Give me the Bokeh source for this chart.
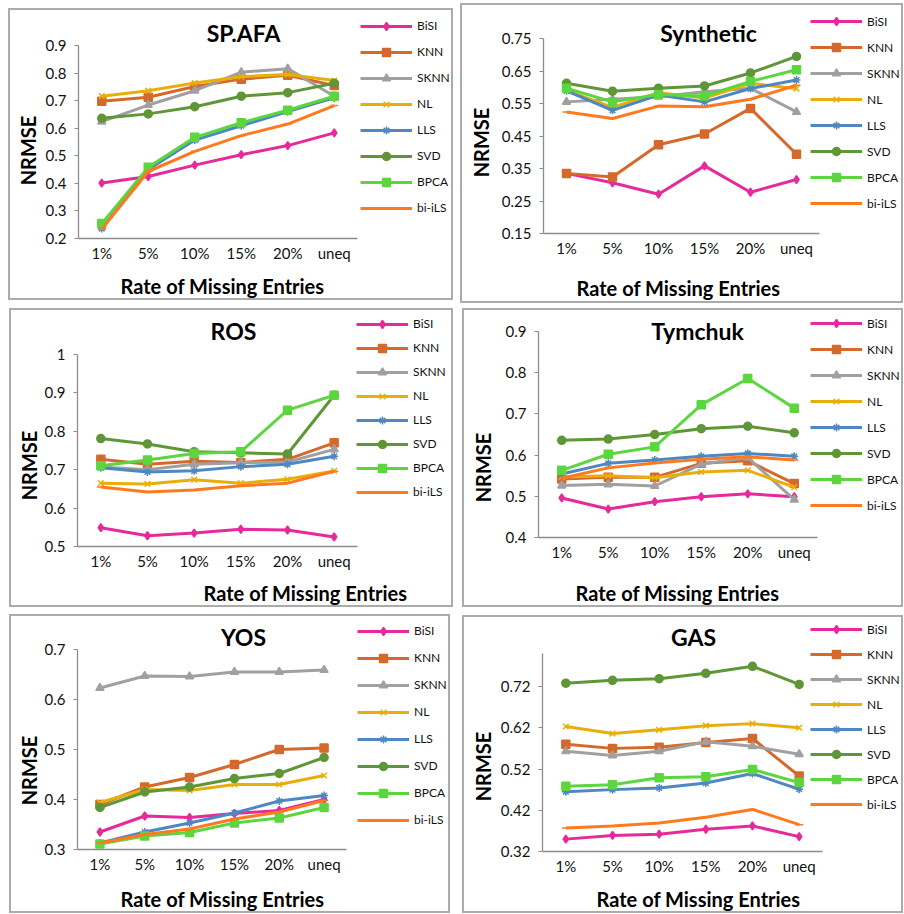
import math

from bokeh.embed import file_html
from bokeh.layouts import column, row
from bokeh.models import (CustomJSTickFormatter, FactorRange, FixedTicker, Label,
                          Legend, LegendItem, Range1d)
from bokeh.plotting import figure
from bokeh.resources import INLINE

# ---------------------------------------------------------------- data
RATES = ["1%", "5%", "10%", "15%", "20%", "uneq"]
METHODS = ["BiSI", "KNN", "SKNN", "NL", "LLS", "SVD", "BPCA", "bi-iLS"]

SPAFA = {
    "BiSI":   [0.401, 0.425, 0.466, 0.504, 0.537, 0.583],
    "KNN":    [0.698, 0.712, 0.751, 0.778, 0.792, 0.755],
    "SKNN":   [0.624, 0.684, 0.736, 0.803, 0.816, 0.716],
    "NL":     [0.716, 0.736, 0.764, 0.787, 0.795, 0.773],
    "LLS":    [0.236, 0.450, 0.557, 0.609, 0.660, 0.710],
    "SVD":    [0.636, 0.652, 0.678, 0.716, 0.729, 0.763],
    "BPCA":   [0.254, 0.458, 0.567, 0.620, 0.665, 0.716],
    "bi-iLS": [0.234, 0.443, 0.516, 0.573, 0.615, 0.682],
}
SYNTHETIC = {
    "BiSI":   [0.335, 0.306, 0.271, 0.358, 0.277, 0.316],
    "KNN":    [0.335, 0.324, 0.423, 0.456, 0.535, 0.394],
    "SKNN":   [0.555, 0.563, 0.571, 0.586, 0.597, 0.524],
    "NL":     [0.590, 0.538, 0.583, 0.567, 0.612, 0.596],
    "LLS":    [0.589, 0.529, 0.576, 0.555, 0.596, 0.622],
    "SVD":    [0.612, 0.588, 0.597, 0.604, 0.644, 0.695],
    "BPCA":   [0.597, 0.555, 0.578, 0.573, 0.618, 0.654],
    "bi-iLS": [0.524, 0.504, 0.542, 0.540, 0.563, 0.606],
}
ROS = {
    "BiSI":   [0.549, 0.528, 0.535, 0.545, 0.543, 0.525],
    "KNN":    [0.727, 0.714, 0.722, 0.719, 0.727, 0.770],
    "SKNN":   [0.707, 0.700, 0.714, 0.718, 0.720, 0.753],
    "NL":     [0.665, 0.663, 0.674, 0.665, 0.675, 0.697],
    "LLS":    [0.705, 0.694, 0.697, 0.708, 0.714, 0.735],
    "SVD":    [0.781, 0.767, 0.747, 0.744, 0.741, 0.894],
    "BPCA":   [0.710, 0.725, 0.742, 0.747, 0.855, 0.894],
    "bi-iLS": [0.655, 0.642, 0.647, 0.658, 0.665, 0.696],
}
TYMCHUK = {
    "BiSI":   [0.496, 0.469, 0.487, 0.499, 0.506, 0.499],
    "KNN":    [0.542, 0.546, 0.546, 0.580, 0.586, 0.531],
    "SKNN":   [0.526, 0.529, 0.525, 0.578, 0.594, 0.492],
    "NL":     [0.547, 0.550, 0.545, 0.559, 0.563, 0.522],
    "LLS":    [0.554, 0.580, 0.588, 0.597, 0.604, 0.597],
    "SVD":    [0.636, 0.639, 0.650, 0.664, 0.670, 0.654],
    "BPCA":   [0.563, 0.602, 0.620, 0.722, 0.786, 0.714],
    "bi-iLS": [0.544, 0.569, 0.581, 0.590, 0.596, 0.588],
}
YOS = {
    "BiSI":   [0.335, 0.367, 0.364, 0.372, 0.378, 0.400],
    "KNN":    [0.390, 0.425, 0.444, 0.470, 0.500, 0.503],
    "SKNN":   [0.623, 0.647, 0.646, 0.655, 0.655, 0.659],
    "NL":     [0.394, 0.420, 0.418, 0.430, 0.430, 0.448],
    "LLS":    [0.313, 0.335, 0.353, 0.373, 0.397, 0.408],
    "SVD":    [0.384, 0.415, 0.425, 0.442, 0.452, 0.484],
    "BPCA":   [0.311, 0.327, 0.334, 0.353, 0.363, 0.384],
    "bi-iLS": [0.313, 0.330, 0.341, 0.361, 0.375, 0.398],
}
GAS = {
    "BiSI":   [0.350, 0.359, 0.362, 0.374, 0.382, 0.356],
    "KNN":    [0.580, 0.570, 0.573, 0.584, 0.594, 0.503],
    "SKNN":   [0.563, 0.553, 0.563, 0.586, 0.575, 0.556],
    "NL":     [0.623, 0.606, 0.615, 0.625, 0.630, 0.620],
    "LLS":    [0.465, 0.470, 0.474, 0.486, 0.509, 0.471],
    "SVD":    [0.728, 0.735, 0.739, 0.752, 0.769, 0.725],
    "BPCA":   [0.478, 0.482, 0.499, 0.501, 0.519, 0.487],
    "bi-iLS": [0.377, 0.382, 0.389, 0.403, 0.422, 0.385],
}

SPAFA_TICKS = [0.2, 0.3, 0.4, 0.5, 0.6, 0.7, 0.8, 0.9]
SYNTHETIC_TICKS = [0.15, 0.25, 0.35, 0.45, 0.55, 0.65, 0.75]
ROS_TICKS = [0.5, 0.6, 0.7, 0.8, 0.9, 1.0]
TYMCHUK_TICKS = [0.4, 0.5, 0.6, 0.7, 0.8, 0.9]
YOS_TICKS = [0.3, 0.4, 0.5, 0.6, 0.7]
GAS_TICKS = [0.32, 0.42, 0.52, 0.62, 0.72]
GAS_TOP = 0.80

X_LABEL = "Rate of Missing Entries"
Y_LABEL = "NRMSE"

# ---------------------------------------------------------------- style
FONT = "Lato"
COLORS = {
    "BiSI": "#E6299B", "KNN": "#D5692C", "SKNN": "#A0A0A0", "NL": "#E8AE0B",
    "LLS": "#4E87C2", "SVD": "#5F9637", "BPCA": "#5CD63F", "bi-iLS": "#FF7A1E",
}
MARKERS = {
    "BiSI": ("diamond", 8), "KNN": ("square", 8), "SKNN": ("triangle", 8),
    "NL": ("x", 8), "LLS": ("asterisk", 8), "SVD": ("circle", 8),
    "BPCA": ("square", 8), "bi-iLS": ("dash", 8),
}
BORDER = 2

# page geometry of each panel (pixels): outer box, plot frame, centres of
# title / x label / y label, and legend (line start x, first row y, row step)
PANELS = [
    dict(title="SP.AFA", data=SPAFA, ticks=SPAFA_TICKS, top=0.9,
         box=(8, 8, 453, 300), frame=(78, 45, 357, 238),
         tpos=(243, 32), xpos=(222, 285), ypos=(27, 150),
         leg=(360, 23, 26.4)),
    dict(title="Synthetic", data=SYNTHETIC, ticks=SYNTHETIC_TICKS, top=0.75,
         box=(460, 3, 903, 303), frame=(543, 38, 819, 233),
         tpos=(708, 32), xpos=(678, 287), ypos=(480, 142),
         leg=(810, 20, 26.2)),
    dict(title="ROS", data=ROS, ticks=ROS_TICKS, top=1.0,
         box=(9, 308, 453, 607), frame=(77, 354, 357, 546),
         tpos=(233, 330), xpos=(305, 592), ypos=(28, 465),
         leg=(356, 323, 24.1)),
    dict(title="Tymchuk", data=TYMCHUK, ticks=TYMCHUK_TICKS, top=0.9,
         box=(462, 308, 903, 607), frame=(538, 331, 817, 537),
         tpos=(697, 330), xpos=(677, 592), ypos=(482, 467),
         leg=(810, 322, 26.2)),
    dict(title="YOS", data=YOS, ticks=YOS_TICKS, top=0.7,
         box=(9, 614, 450, 913), frame=(77, 649, 346, 849),
         tpos=(243, 636), xpos=(222, 898), ypos=(28, 770),
         leg=(357, 632, 26.8)),
    dict(title="GAS", data=GAS, ticks=GAS_TICKS, top=GAS_TOP,
         box=(462, 615, 903, 913), frame=(542, 653, 822, 851),
         tpos=(693, 636), xpos=(698, 898), ypos=(482, 766),
         leg=(810, 629, 25.0)),
]

TICK_FMT = CustomJSTickFormatter(
    code="return tick.toFixed(2).replace(/0+$/, '').replace(/\\.$/, '');")


def make_chart(spec, cl, ct, cw, ch):
    """Axes and the eight series of one data set."""
    fl, ft, fr, fb = spec["frame"]
    ticks = spec["ticks"]
    p = figure(
        x_range=FactorRange(*RATES),
        y_range=Range1d(ticks[0], spec["top"]),
        width=cw, height=ch,
        min_border_left=fl - cl, min_border_right=cl + cw - fr,
        min_border_top=ft - ct, min_border_bottom=ct + ch - fb,
        output_backend="svg", toolbar_location=None, title=None,
    )
    p.outline_line_color = None
    p.xgrid.visible = False
    p.ygrid.visible = False
    for ax in (p.xaxis[0], p.yaxis[0]):
        ax.axis_line_color = "#8c8c8c"
        ax.axis_line_width = 1.3
        ax.major_tick_line_color = "#8c8c8c"
        ax.minor_tick_line_color = None
        ax.major_label_text_font = FONT
        ax.major_label_text_font_size = "15px"
        ax.major_label_text_color = "#111111"
    p.xaxis.major_tick_in = 0
    p.xaxis.major_tick_out = 0
    p.xaxis.major_label_standoff = 5
    p.yaxis.major_tick_in = 0
    p.yaxis.major_tick_out = 4
    p.yaxis.major_label_standoff = 8
    p.yaxis.ticker = FixedTicker(ticks=ticks)
    p.yaxis.formatter = TICK_FMT

    for m in METHODS:
        vals = spec["data"][m]
        mk, sz = MARKERS[m]
        p.line(RATES, vals, line_color=COLORS[m], line_width=3)
        p.scatter(RATES, vals, marker=mk, size=sz, fill_color=COLORS[m],
                  line_color=COLORS[m], line_width=1.5)
    return p


def make_overlay(spec, cl, ct, cw, ch):
    """Transparent layer over the chart carrying title, axis titles, legend."""
    o = figure(
        x_range=Range1d(0, cw), y_range=Range1d(0, ch), width=cw, height=ch,
        min_border=0, x_axis_type=None, y_axis_type=None,
        output_backend="svg", toolbar_location=None, title=None,
    )
    o.outline_line_color = None
    o.background_fill_alpha = 0
    o.border_fill_alpha = 0

    def px(x, y):
        return x - cl, ch - (y - ct)

    def place(text, pos, size, angle=0.0):
        x, y = px(*pos)
        o.add_layout(Label(
            x=x, y=y, text=text, angle=angle, text_align="center",
            text_baseline="middle", text_font=FONT, text_font_style="bold",
            text_font_size=size, text_color="#000000"))

    place(spec["title"], spec["tpos"], "23px")
    place(X_LABEL, spec["xpos"], "20px")
    place(Y_LABEL, spec["ypos"], "20px", angle=math.pi / 2)

    # legend keys: renderers with no drawable point, carrying only the style
    nan = float("nan")
    items = []
    for m in METHODS:
        mk, sz = MARKERS[m]
        ln = o.line([nan], [nan], line_color=COLORS[m], line_width=3)
        sc = o.scatter([nan], [nan], marker=mk, size=sz, fill_color=COLORS[m],
                       line_color=COLORS[m], line_width=1.5)
        items.append(LegendItem(label=m, renderers=[ln, sc]))

    lx, ly0, step = spec["leg"]
    gh = 20
    leg_bottom = ly0 + 7 * step + gh / 2
    lxs, lys = px(lx, leg_bottom)
    legend = Legend(
        items=items, location=(lxs, lys),
        glyph_width=52, glyph_height=gh, label_height=gh,
        label_standoff=5, spacing=int(round(step - gh)),
        padding=0, margin=0, border_line_color=None,
        background_fill_alpha=0, label_text_font=FONT,
        label_text_font_size="12px", label_text_color="#111111",
    )
    o.add_layout(legend)
    return o


def make_panel(spec, margin):
    bl, bt, br, bb = spec["box"]
    cl, ct = bl + BORDER, bt + BORDER
    cw, ch = br - bl - 2 * BORDER, bb - bt - 2 * BORDER
    chart = make_chart(spec, cl, ct, cw, ch)
    overlay = make_overlay(spec, cl, ct, cw, ch)
    # the overlay sits in its own column, pulled back over the chart
    layer = column(overlay, margin=(0, 0, 0, -cw), spacing=0)
    return row(chart, layer, margin=margin, spacing=0,
               styles={"border": f"{BORDER}px solid #ababab"})


rows = []
row_top = 0
for i in range(0, len(PANELS), 2):
    pair = PANELS[i:i + 2]
    boxes = []
    prev_right = 0
    for spec in pair:
        bl, bt, br, bb = spec["box"]
        boxes.append(make_panel(spec, (bt - row_top, 0, 0, bl - prev_right)))
        prev_right = br
    rows.append(row(*boxes, spacing=0))
    row_top = max(s["box"][3] for s in pair)

layout = column(*rows, spacing=0)

with open("out.html", "w") as f:
    f.write(file_html(layout, INLINE, title="NRMSE by rate of missing entries"))
